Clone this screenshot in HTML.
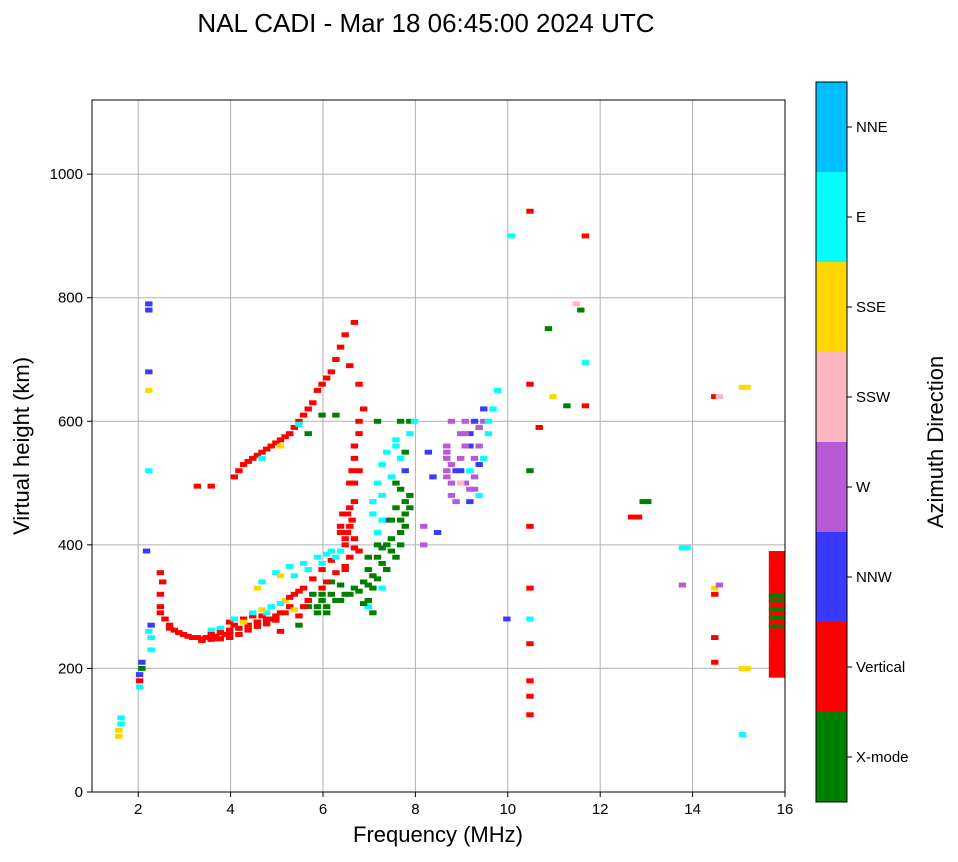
<!DOCTYPE html>
<html><head><meta charset="utf-8"><style>
body{margin:0;background:#fff;}
svg text{font-family:"Liberation Sans",sans-serif;}
</style></head><body>
<svg id="chart" width="958" height="857" xmlns="http://www.w3.org/2000/svg">
<text x="426" y="32" font-size="26" text-anchor="middle">NAL CADI - Mar 18 06:45:00 2024 UTC</text>
<g id="grid"></g>
<g id="marks"></g>
<rect x="92" y="100" width="693" height="692" fill="none" stroke="#000" stroke-width="1"/>
<g id="axes"></g>
<text x="438" y="842" font-size="22" text-anchor="middle">Frequency (MHz)</text>
<text transform="translate(29,446) rotate(-90)" font-size="22" text-anchor="middle">Virtual height (km)</text>
<g id="cbar"></g>
<text transform="translate(943,442) rotate(-90)" font-size="22" text-anchor="middle">Azimuth Direction</text>
</svg>
<script>
const xTicks=[2,4,6,8,10,12,14,16];
const yTicks=[0,200,400,600,800,1000];
const modeNames=["X-mode","Vertical","NNW","W","SSW","SSE","E","NNE"];
const modeColors=["#008000","#ff0000","#3a3aff","#b65ad6","#ffb6c1","#ffd700","#00ffff","#00bfff"];
const freqs=[1.5,1.55,1.55,1.5,1.95,1.95,2.0,2.0,1.95,2.2,2.2,2.15,2.2,2.4,2.4,2.4,2.45,2.4,2.6,2.8,3.0,3.2,3.4,3.6,3.8,3.5,3.7,3.9,4.0,4.2,4.3,4.4,4.6,4.8,5.0,5.2,5.1,5.3,5.5,5.7,5.9,6.1,4.6,4.9,5.2,5.5,5.8,6.0,6.3,4.5,5.0,5.6,5.8,6.0,6.2,6.4,6.6,6.8,7.0,7.2,7.4,7.6,7.7,7.8,7.5,7.3,7.0,6.4,6.5,6.6,6.5,6.6,6.7,6.8,6.7,6.5,6.3,6.6,7.0,7.2,7.1,7.4,7.6,7.8,7.1,7.5,7.7,7.3,4.0,4.2,4.4,4.6,4.8,5.0,5.2,5.4,5.6,5.8,6.0,6.2,6.4,6.6,5.6,5.9,6.2,3.2,3.5,8.6,8.7,8.6,8.7,8.9,9.0,9.1,9.2,9.3,9.4,9.0,9.2,8.8,9.5,9.6,9.7,8.2,8.3,8.1,8.1,8.4,10.4,10.4,10.4,10.4,10.4,10.4,10.4,10.4,10.4,10.4,9.9,10.0,11.5,11.6,11.4,12.6,12.95,13.7,13.7,14.4,14.4,14.4,14.4,14.4,15.0,15.0,15.0,2.15,2.15,2.15,2.15,2.15,2.1,11.6,11.6,10.8,10.9,11.2,10.6,
3.3,3.6,3.9,4.1,4.5,4.7,4.9,5.3,5.4,5.6,6.9,7.1,7.3,7.6,7.7,6.9,7.2,6.45,6.55,6.7,7.5,7.8,8.8,9.0,9.3,8.7,9.1,5.0,5.4,5.9,6.1,6.4,7.9,7.0,6.9,
2.5,2.6,2.7,2.9,3.1,3.3,3.5,3.7,3.9,4.1,4.3,4.5,4.7,4.9,3.5,3.7,3.9,4.1,4.3,4.5,4.7,4.9,5.1,4.0,4.2,4.4,4.6,4.8,5.0,5.2,5.4,5.5,5.6,5.7,5.9,6.0,6.2,5.3,5.6,5.9,6.1,6.2,6.4,6.3,6.5,6.7,6.9,7.1,7.3,7.5,7.6,7.7,7.8,7.4,7.2,6.8,6.0,5.8,6.9,7.1,7.4,7.6,7.7,7.6,
6.3,6.35,6.5,6.6,6.4,6.5,6.6,6.7,6.6,6.7,6.55,6.45,7.1,7.2,7.3,7.0,7.2,7.5,
4.1,4.3,4.5,4.7,4.9,5.1,5.3,5.5,5.7,5.9,6.1,6.3,4.6,5.0,5.4,
8.6,8.6,8.6,8.7,8.9,8.9,9.0,9.1,9.1,9.2,9.3,9.3,9.4,9.4,9.2,9.0,8.9,9.1,9.5,6.1,6.3,5.9,
14.5,15.1,14.5,15.1,13.8,12.75,12.85,3.4];
const heights=[100,110,120,90,170,190,200,210,180,230,250,260,270,290,300,320,340,355,270,258,252,250,250,252,255,262,265,275,270,280,270,285,285,280,290,300,310,320,330,345,360,375,340,355,365,370,380,385,390,330,350,300,290,300,310,320,330,340,350,370,390,420,450,480,460,400,330,400,430,470,500,540,580,620,660,690,420,410,450,480,420,510,540,580,600,500,520,440,510,530,540,550,560,570,580,600,620,650,670,700,740,760,580,610,610,495,495,550,530,510,480,580,600,560,540,590,620,500,490,470,580,620,650,550,510,430,400,420,940,660,520,430,330,280,240,180,155,125,280,900,780,900,790,445,470,395,335,640,330,320,250,210,200,655,93,790,780,680,650,520,390,695,625,750,640,625,590,
245,248,258,265,275,290,280,295,270,310,380,400,360,440,470,300,330,450,520,390,560,600,520,560,480,600,470,260,285,320,340,360,600,290,310,
280,265,262,255,250,248,247,248,250,255,262,268,272,278,255,258,262,265,270,275,280,285,290,280,275,290,295,300,305,315,325,300,310,320,330,340,355,350,360,370,390,380,365,335,320,325,335,345,360,380,400,430,460,440,395,305,290,300,360,380,410,490,550,600,
430,450,380,395,410,460,500,520,560,600,440,420,500,530,550,470,440,570,
520,535,545,555,565,575,590,610,630,660,680,720,540,560,595,
540,520,560,500,520,540,560,580,520,510,530,560,600,540,600,580,500,490,600,320,310,310,
640,655,335,200,395,445,470,250];
const modes=[5,6,6,5,6,2,0,2,1,6,6,6,2,1,1,1,1,1,1,1,1,1,1,1,1,6,6,1,1,1,6,1,1,1,1,1,5,1,1,1,1,1,6,6,6,6,6,6,6,5,5,0,0,0,0,0,0,0,0,0,0,0,0,0,0,0,0,1,1,1,1,1,1,1,1,1,1,1,6,6,6,6,6,6,0,0,2,2,1,1,1,1,1,1,1,1,1,1,1,1,1,1,0,0,0,1,1,3,3,3,3,3,3,2,3,3,2,3,3,3,6,6,6,2,2,3,3,2,1,1,0,1,1,6,1,1,1,1,2,6,0,1,4,1,0,6,3,1,5,1,1,1,5,5,6,2,2,2,5,6,2,6,1,0,5,0,1,
1,1,1,6,1,6,1,5,0,1,0,0,0,0,0,6,6,1,1,1,6,0,2,3,6,3,2,1,1,0,0,1,6,0,0,
1,1,1,1,1,1,1,1,1,1,1,1,1,1,1,1,1,1,1,1,1,1,1,6,5,6,5,6,6,1,1,1,1,0,1,1,1,6,6,6,6,6,1,0,0,0,0,0,0,0,0,0,0,0,0,0,0,0,0,0,0,0,0,0,
1,1,1,1,1,1,1,1,1,1,1,1,6,6,6,6,6,6,
1,1,1,1,1,1,1,1,1,1,1,1,6,5,6,
3,3,3,3,2,3,3,2,6,3,2,3,3,6,2,3,4,3,6,0,0,0,
4,5,3,5,6,1,0,1];
const barFreq=[15.65,16.0];
const barH=[185,390];
const stripeH=[268,282,296,310,318];

const X=f=>92+(f-1)*693/15;
const Y=h=>792-h*692/1120;
const NS="http://www.w3.org/2000/svg";
function mk(t,a,p){const e=document.createElementNS(NS,t);for(const k in a)e.setAttribute(k,a[k]);p.appendChild(e);return e;}
const grid=document.getElementById('grid'),axes=document.getElementById('axes'),marks=document.getElementById('marks'),cb=document.getElementById('cbar');
xTicks.forEach(t=>{
 const l=mk('line',{x1:X(t),x2:X(t),y1:100,y2:792,stroke:'#b0b0b0','stroke-width':1},grid);
 
 
 mk('line',{x1:X(t),x2:X(t),y1:792,y2:797,stroke:'#000'},axes);
 const tx=mk('text',{x:X(t),y:814,'font-size':15,'text-anchor':'middle'},axes);tx.textContent=t;
 
 
});
yTicks.forEach(t=>{
 const l=mk('line',{x1:92,x2:785,y1:Y(t),y2:Y(t),stroke:'#b0b0b0','stroke-width':1},grid);
 
 
 mk('line',{x1:87,x2:92,y1:Y(t),y2:Y(t),stroke:'#000'},axes);
 const tx=mk('text',{x:83,y:Y(t)+5,'font-size':15,'text-anchor':'end'},axes);tx.textContent=t;
 
 
});
freqs.forEach((f,i)=>{
 const r=mk('rect',{x:X(f),y:Y(heights[i]+4),width:X(f+0.16)-X(f),height:Y(0)-Y(8),fill:modeColors[modes[i]]},marks);
 
 
});
const br=mk('rect',{x:X(barFreq[0]),y:Y(barH[1]),width:X(barFreq[1])-X(barFreq[0]),height:Y(barH[0])-Y(barH[1]),fill:modeColors[1]},marks);


stripeH.forEach(h=>{
 const s=mk('rect',{x:X(barFreq[0]),y:Y(h+3),width:X(barFreq[1])-X(barFreq[0]),height:Y(0)-Y(6),fill:modeColors[0]},marks);
 
 
});
modeNames.forEach((n,i)=>{
 const y0=802-(i+1)*90;
 const r=mk('rect',{x:816,y:y0,width:31,height:90,fill:modeColors[i]},cb);
 
 
 mk('line',{x1:847,x2:852,y1:y0+45,y2:y0+45,stroke:'#000'},cb);
 const t=mk('text',{x:856,y:y0+50,'font-size':15},cb);t.textContent=n;
 
 
});
mk('rect',{x:816,y:82,width:31,height:720,fill:'none',stroke:'#000'},cb);
</script>
</body></html>
